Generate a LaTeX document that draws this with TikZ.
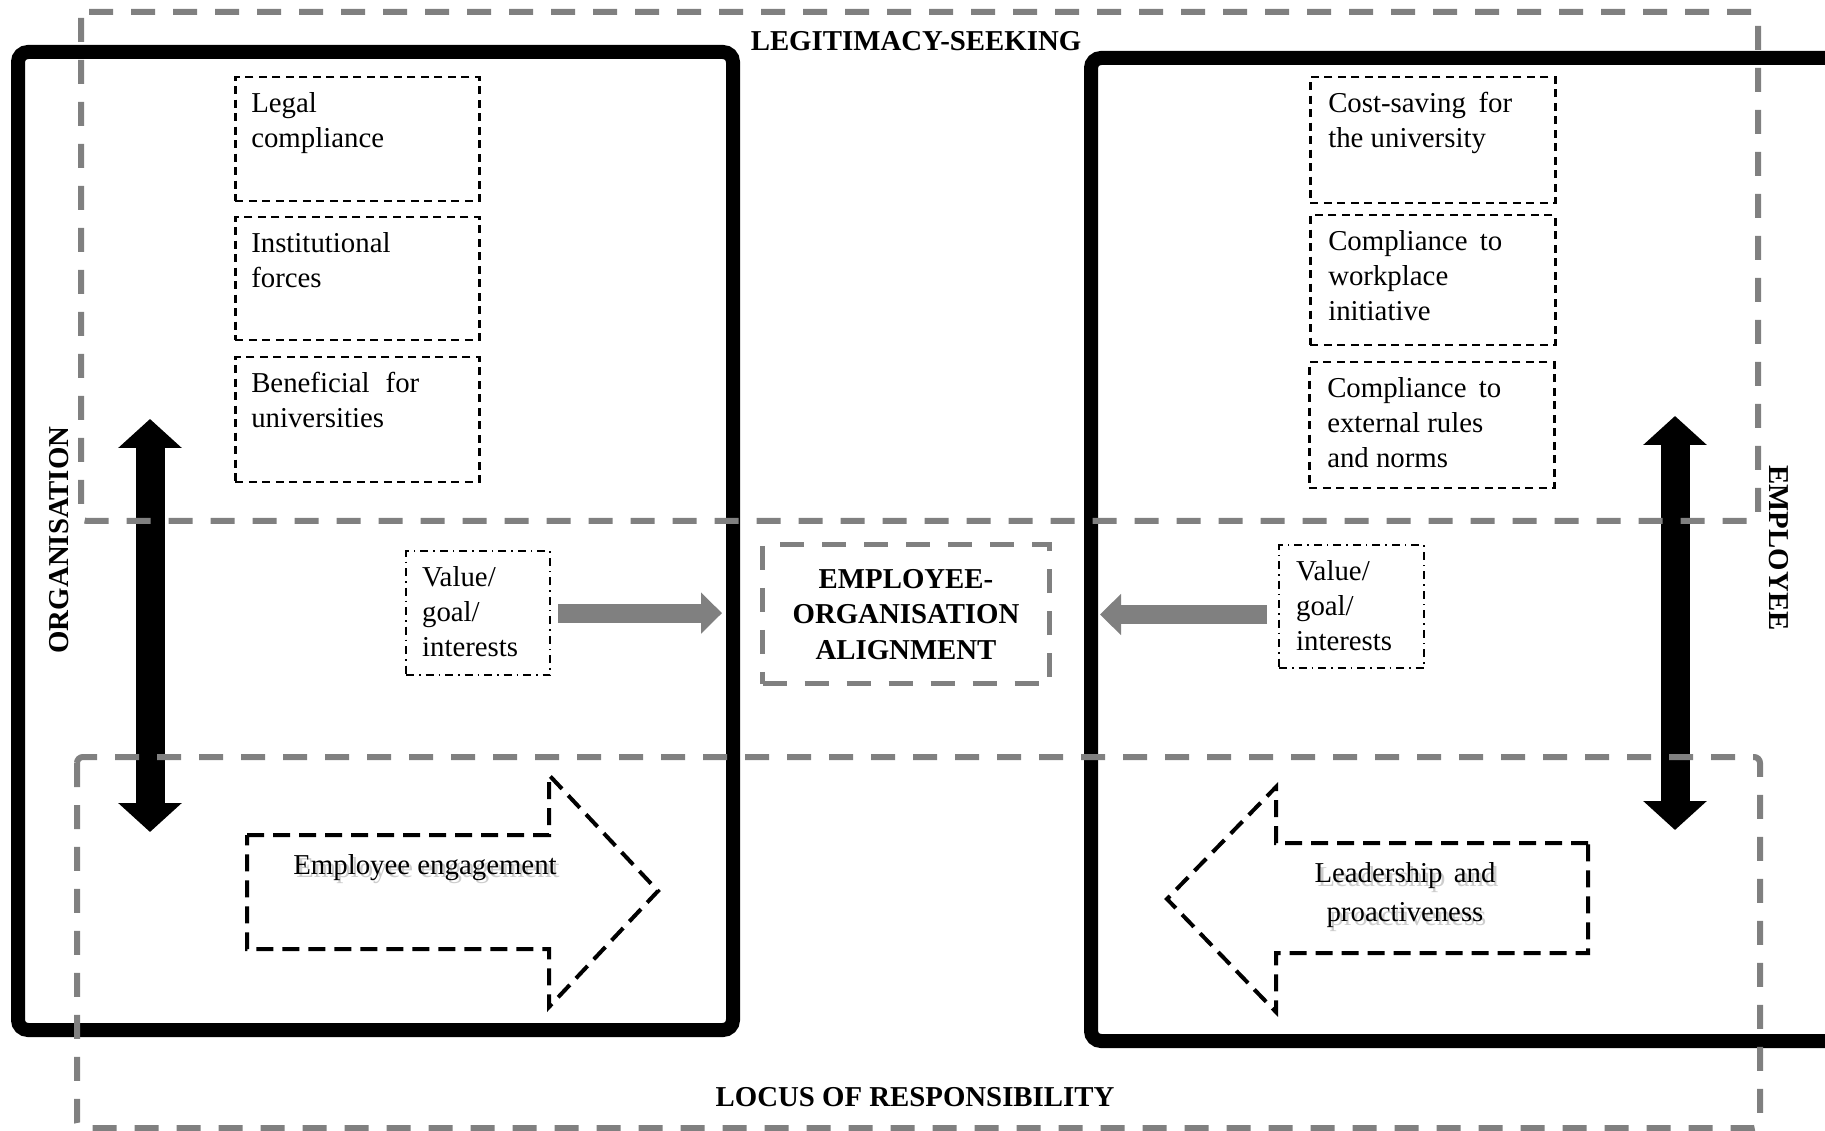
\documentclass[tikz,border=0pt]{standalone}
\usepackage{fontspec}
\setmainfont{Liberation Serif}
\usetikzlibrary{positioning,arrows.meta}
\definecolor{zonegray}{RGB}{128,128,128}
\definecolor{shadowgray}{RGB}{205,205,205}
\newcommand{\softshadow}[1]{\makebox[0pt][l]{\hspace{0.3mm}\raisebox{-0.35mm}{\textcolor{shadowgray}{#1}}}#1}

\tikzset{
  frame/.style={line width=1.4mm, rounded corners=1mm},
  zone/.style={draw=zonegray, line width=0.6mm, dash pattern=on 2.4mm off 1.8mm, rounded corners=0.6mm},
  zonelabel/.style={font=\bfseries\fontsize{8.2}{10}\selectfont, inner sep=0pt},
  itembox/.style={draw, line width=0.25mm, dash pattern=on 0.8mm off 0.55mm, anchor=north west, inner xsep=1.6mm, inner ysep=1.5mm},
  valuebox/.style={draw, line width=0.22mm, dash pattern=on 0.8mm off 0.5mm on 0.15mm off 0.5mm, anchor=north west, inner xsep=1.6mm, inner ysep=1.5mm},
  alignbox/.style={draw=zonegray, line width=0.5mm, dash pattern=on 2.4mm off 1.8mm, minimum width=28.7mm, minimum height=13.9mm, align=center, font=\bfseries\fontsize{8.2}{10}\selectfont},
  flowarrow/.style={draw=zonegray, line width=1.9mm, -{Triangle[length=2.1mm, width=4mm]}},
  bigarrow/.style={line width=2.9mm, {Triangle[length=2.9mm, width=6.2mm]}-{Triangle[length=2.9mm, width=6.2mm]}},
  blockarrow/.style={line width=0.4mm, dash pattern=on 1.7mm off 0.9mm, line join=miter}
}

\begin{document}
\begin{tikzpicture}[x=0.1mm, y=-0.1mm, every node/.style={font=\fontsize{8.2}{10}\selectfont}]
  \useasboundingbox (0,0) rectangle (1825,1131);
  \clip (0,0) rectangle (1825,1131);

  % organisation and employee frames
  \draw[frame] (18,52) rectangle (733,1030);
  \draw[frame] (1091,58) rectangle (1860,1041);

  % organisation side
  \node[itembox] (legal) at (234,76) {\parbox[t][9.4mm][t]{21.2mm}{Legal\\compliance}};
  \node[itembox] (instit) at (234,216) {\parbox[t][9.3mm][t]{21.2mm}{Institutional\\forces}};
  \node[itembox] (benefit) at (234,356) {\parbox[t][9.5mm][t]{21.2mm}{\makebox[16.8mm][s]{Beneficial for}\\universities}};
  \node[valuebox] (valorg) at (405,550) {\parbox[t][9.4mm][t]{11.2mm}{Value/\\goal/\\interests}};

  % employee side
  \node[itembox, inner xsep=1.8mm] (costsave) at (1309,76) {\parbox[t][9.6mm][t]{20.9mm}{\makebox[18.4mm][s]{Cost-saving for}\\the university}};
  \node[itembox, inner xsep=1.8mm] (workplace) at (1309,214) {\parbox[t][10mm][t]{20.9mm}{\makebox[17.4mm][s]{Compliance to}\\workplace\\initiative}};
  \node[itembox, inner xsep=1.8mm] (external) at (1308,361) {\parbox[t][9.6mm][t]{20.9mm}{\makebox[17.4mm][s]{Compliance to}\\external rules\\and norms}};
  \node[valuebox, inner xsep=1.7mm] (valemp) at (1278,544) {\parbox[t][9.3mm][t]{11.1mm}{Value/\\goal/\\interests}};

  % alignment in the middle
  \node[alignbox] (align) at (906,614.5) {EMPLOYEE-\\ORGANISATION\\ALIGNMENT};
  \draw[flowarrow, shorten <=0.7mm, shorten >=3.8mm] (valorg.east) -- (valorg.east -| align.west);
  \draw[flowarrow, shorten <=1.1mm, shorten >=4.8mm] (align.east -| valemp.west) -- (align.east);

  % double arrows
  \coordinate (orgtop) at (150,419);
  \coordinate (orgbot) at (150,832);
  \coordinate (emptop) at (1675,416);
  \coordinate (empbot) at (1675,830);
  \draw[bigarrow] (orgtop) -- (orgbot);
  \draw[bigarrow] (emptop) -- (empbot);

  % block arrows
  \draw[blockarrow] (247,835) -- (549,835) -- (549,775) -- (658,891) -- (549,1007) -- (549,949) -- (247,949) -- cycle;
  \node (engage) at (425,869) {\softshadow{Employee engagement}};
  \draw[blockarrow] (1588,843) -- (1276,843) -- (1276,787) -- (1167,899) -- (1276,1012) -- (1276,953) -- (1588,953) -- cycle;
  \node[align=center, font=\fontsize{8.2}{11}\selectfont] (leader) at (1405,897) {\softshadow{\makebox[18.1mm][s]{Leadership and}}\\\softshadow{proactiveness}};

  % zones
  \draw[zone] (81,12) rectangle (1758,521);
  \draw[zone] (77,757) rectangle (1760,1128);
  \node[zonelabel] (legit) at (916,41) {LEGITIMACY-SEEKING};
  \node[zonelabel] (locus) at (915,1097) {LOCUS OF RESPONSIBILITY};
  \node[zonelabel, rotate=90] (orglabel) at (59,540) {ORGANISATION};
  \node[zonelabel, rotate=-90] (emplabel) at (1779,548) {EMPLOYEE};
\end{tikzpicture}
\end{document}
